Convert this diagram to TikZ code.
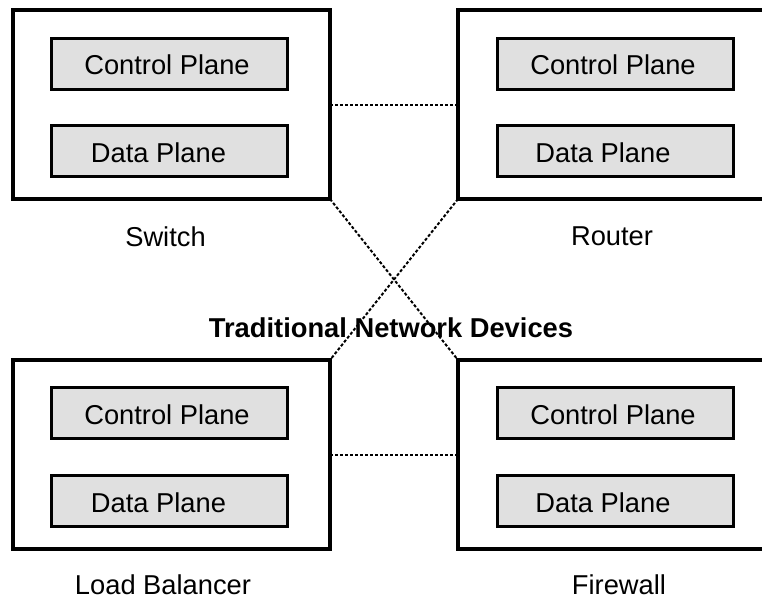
\documentclass[tikz,border=0pt]{standalone}
\usepackage{fontspec}
\setmainfont{Liberation Sans}
\begin{document}
\begin{tikzpicture}[x=1pt,y=-1pt,
  device/.style={draw=black, line width=3.5pt, rectangle, inner sep=0pt, outer sep=0pt, minimum height=189pt},
  plane/.style={draw=black, line width=3pt, fill={rgb,255:red,224;green,224;blue,224}, rectangle, inner sep=0pt, outer sep=0pt, minimum width=236pt, minimum height=51pt},
  ptext/.style={font=\fontsize{27.3}{30}\selectfont, inner sep=0pt},
  lbl/.style={font=\fontsize{27.3}{30}\selectfont, inner sep=0pt},
  link/.style={line width=2pt, dash pattern=on 3pt off 2pt}
]
\useasboundingbox (0,0) rectangle (762,600);
\clip (0,0) rectangle (762,600);
% devices
\node[device, minimum width=317pt] (sw) at (171.5,104.5) {};
\node[device, minimum width=322pt] (rt) at (619,104.5) {};
\node[device, minimum width=317pt] (lb) at (171.5,454.5) {};
\node[device, minimum width=322pt] (fw) at (619,454.5) {};
% planes
\node[plane] (swc) at (169,63.5) {};
\node[plane] (swd) at (169,151) {};
\node[plane] (rtc) at (615,63.5) {};
\node[plane] (rtd) at (615,151) {};
\node[plane] (lbc) at (169,413) {};
\node[plane] (lbd) at (169,501) {};
\node[plane] (fwc) at (615,413) {};
\node[plane] (fwd) at (615,501) {};
% plane texts
\node[ptext] (swct) at (167,65) {Control Plane};
\node[ptext] (swdt) at (158.5,152.5) {Data Plane};
\node[ptext] (rtct) at (613,65) {Control Plane};
\node[ptext] (rtdt) at (603,152.5) {Data Plane};
\node[ptext] (lbct) at (167,415) {Control Plane};
\node[ptext] (lbdt) at (158.5,502.5) {Data Plane};
\node[ptext] (fwct) at (613,415) {Control Plane};
\node[ptext] (fwdt) at (603,502.5) {Data Plane};
% links
\draw[link] (sw.east) -- (rt.west);
\draw[link] (lb.east) -- (fw.west);
\draw[link] (sw.south east) -- (fw.north west);
\draw[link] (rt.south west) -- (lb.north east);
% labels
\node[lbl] (swl) at (165.5,236.5) {Switch};
\node[lbl] (rtl) at (612,236.5) {Router};
\node[lbl] (lbl1) at (163,585) {Load Balancer};
\node[lbl] (fwl) at (619,585) {Firewall};
\node[lbl, font=\fontsize{27.3}{30}\selectfont\bfseries] (title) at (391,327.5) {Traditional Network Devices};
\end{tikzpicture}
\end{document}
